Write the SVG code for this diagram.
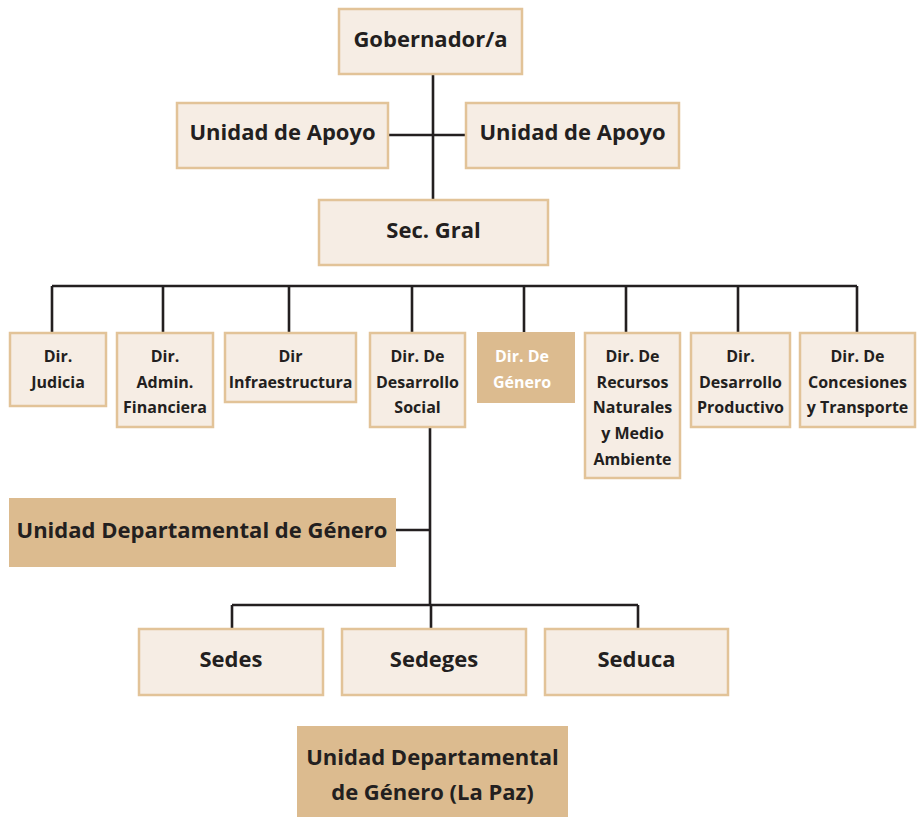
<svg xmlns="http://www.w3.org/2000/svg" width="918" height="817" viewBox="0 0 918 817">
<style>
.b{fill:#f6ede4;stroke:#e2c398;stroke-width:2.5}
.f{fill:#dcbb8f}
text{font-family:"Open Sans","Liberation Sans",sans-serif;font-weight:700;fill:#231f20;text-anchor:middle}
.l{font-size:22px}
.s{font-size:16px}
.w{fill:#ffffff}
.c{stroke:#231f20;stroke-width:2.6;fill:none}
</style>
<rect width="918" height="817" fill="#ffffff"/>
<g id="connectors" class="c">
<path d="M433 75V199M389 135H465"/>
<path d="M52 286H857M52 286V332M163 286V332M289 286V332M412 286V332M524 286V332M626 286V332M738 286V332M857 286V332"/>
<path d="M430 428V605M396 530H430"/>
<path d="M232 605H638M232 605V628M431 605V628M638 605V628"/>
</g>
<g id="gobernador"><rect class="b" x="339" y="9" width="183" height="65"/><text class="l" x="430.5" y="47">Gobernador/a</text></g>
<g id="apoyo1"><rect class="b" x="177" y="103" width="211" height="65"/><text class="l" x="282.5" y="140">Unidad de Apoyo</text></g>
<g id="apoyo2"><rect class="b" x="466" y="103" width="213" height="65"/><text class="l" x="572.5" y="140">Unidad de Apoyo</text></g>
<g id="secgral"><rect class="b" x="319" y="200" width="229" height="65"/><text class="l" x="433.5" y="238">Sec. Gral</text></g>
<g id="judicia"><rect class="b" x="10" y="333" width="96" height="73"/><text class="s" x="58" y="362">Dir.</text><text class="s" x="58" y="388">Judicia</text></g>
<g id="admin"><rect class="b" x="117" y="333" width="96" height="94"/><text class="s" x="165" y="362">Dir.</text><text class="s" x="165" y="388">Admin.</text><text class="s" x="165" y="413">Financiera</text></g>
<g id="infra"><rect class="b" x="225" y="333" width="131" height="69"/><text class="s" x="290.5" y="362">Dir</text><text class="s" x="290.5" y="388">Infraestructura</text></g>
<g id="social"><rect class="b" x="370" y="333" width="95" height="94"/><text class="s" x="417.5" y="362">Dir. De</text><text class="s" x="417.5" y="388">Desarrollo</text><text class="s" x="417.5" y="413">Social</text></g>
<g id="genero"><rect class="f" x="477" y="332" width="98" height="71"/><text class="s w" x="522" y="362">Dir. De</text><text class="s w" x="522" y="388">Género</text></g>
<g id="recursos"><rect class="b" x="585" y="333" width="95" height="145"/><text class="s" x="632.5" y="362">Dir. De</text><text class="s" x="632.5" y="388">Recursos</text><text class="s" x="632.5" y="413">Naturales</text><text class="s" x="632.5" y="439">y Medio</text><text class="s" x="632.5" y="465">Ambiente</text></g>
<g id="productivo"><rect class="b" x="691" y="333" width="99" height="94"/><text class="s" x="740.5" y="362">Dir.</text><text class="s" x="740.5" y="388">Desarrollo</text><text class="s" x="740.5" y="413">Productivo</text></g>
<g id="concesiones"><rect class="b" x="800" y="333" width="115" height="94"/><text class="s" x="857.5" y="362">Dir. De</text><text class="s" x="857.5" y="388">Concesiones</text><text class="s" x="857.5" y="413">y Transporte</text></g>
<g id="udg"><rect class="f" x="9" y="498" width="387" height="69"/><text class="l" x="202" y="538">Unidad Departamental de Género</text></g>
<g id="sedes"><rect class="b" x="139" y="629" width="184" height="66"/><text class="l" x="231" y="667">Sedes</text></g>
<g id="sedeges"><rect class="b" x="342" y="629" width="184" height="66"/><text class="l" x="434" y="667">Sedeges</text></g>
<g id="seduca"><rect class="b" x="545" y="629" width="183" height="66"/><text class="l" x="636.5" y="667">Seduca</text></g>
<g id="udglapaz"><rect class="f" x="297" y="726" width="271" height="91"/><text class="l" x="432.5" y="765">Unidad Departamental</text><text class="l" x="432.5" y="800">de Género (La Paz)</text></g>
</svg>
